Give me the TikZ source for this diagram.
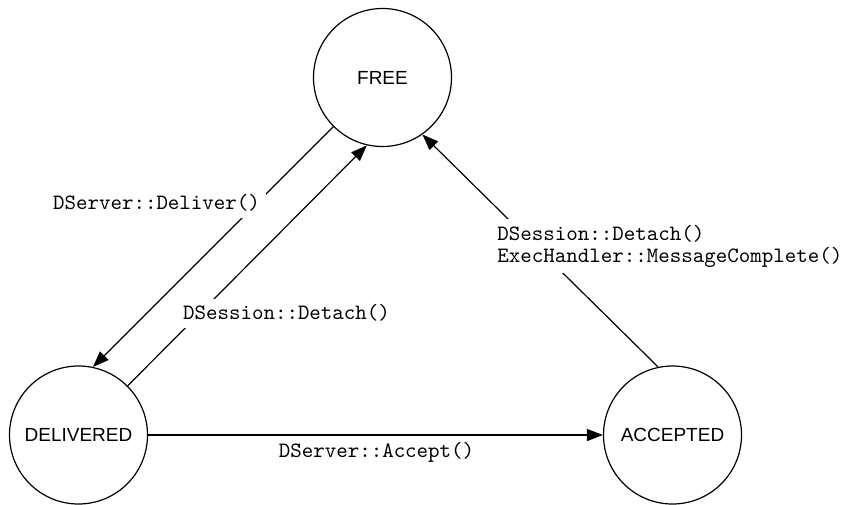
\documentclass[tikz,border=0pt]{standalone}
\usepackage{fontspec}
\setmainfont{Liberation Sans}
\usetikzlibrary{arrows.meta}

\tikzset{
  state/.style={draw, circle, line width=0.6pt, minimum size=69pt,
    inner sep=0pt, font=\fontsize{9.5}{11}\selectfont},
  trans/.style={line width=0.6pt, -{Triangle[length=8pt,width=6pt]}},
  call/.style={font=\ttfamily\fontsize{10.95}{11}\selectfont,
    fill=white, inner sep=3pt},
}

\begin{document}
\begin{tikzpicture}[x=0.5pt, y=-0.5pt]
\useasboundingbox (0,0) rectangle (845,504);

% states
\path (382.5,77.5) node (free) [state] {FREE};
\path (78.5,435) node (delivered) [state] {DELIVERED};
\path (672.5,435) node (accepted) [state] {ACCEPTED};

% transitions
\draw [trans] (free.225) -- (delivered.78);
\draw [trans] (delivered.45) -- (free.257);
\draw [trans] (accepted.102) -- (free.-55);
\draw [trans] (delivered.east) -- (accepted.west);

% labels
\path (156.5,203) node (deliver) [call] {DServer::Deliver()};
\path (286.5,313) node (detach) [call] {DSession::Detach()};
\path (376.5,452) node (accept) [call] {DServer::Accept()};
\path (491,246) node (complete) [call, anchor=west, align=left]
  {DSession::Detach()\\ExecHandler::MessageComplete()};

\end{tikzpicture}
\end{document}
